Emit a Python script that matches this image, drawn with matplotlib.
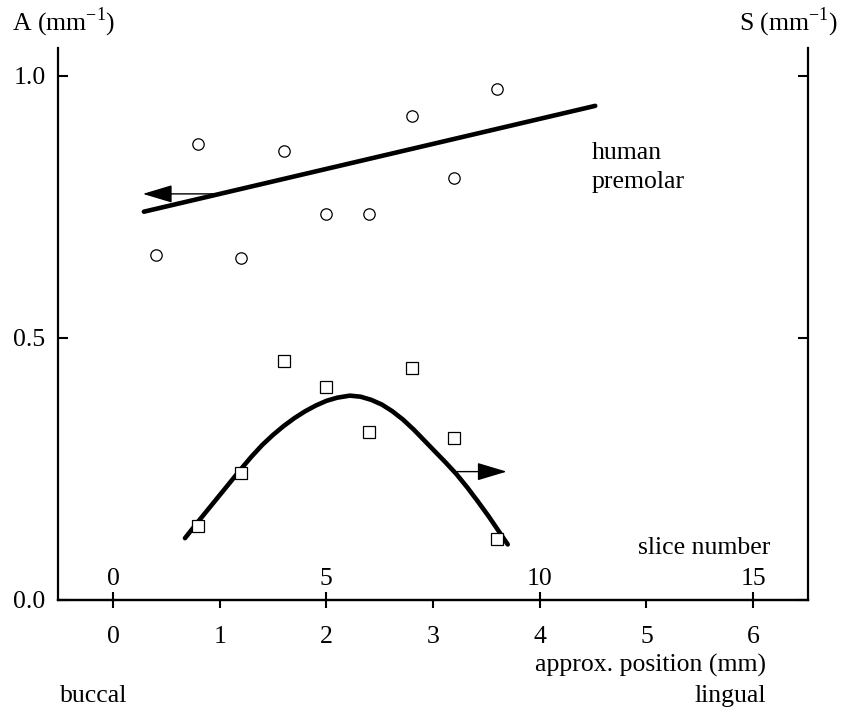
import matplotlib
matplotlib.use("Agg")
import matplotlib.pyplot as plt

# --- data (x in mm, slice = mm * 2.5) ---
a_pos = [0.4, 0.8, 1.2, 1.6, 2.0, 2.4, 2.8, 3.2, 3.6]
a_vals = [0.658, 0.870, 0.653, 0.857, 0.736, 0.737, 0.924, 0.806, 0.975]

s_pos = [0.8, 1.2, 1.6, 2.0, 2.4, 2.8, 3.2, 3.6]
s_vals = [0.142, 0.242, 0.456, 0.406, 0.321, 0.443, 0.310, 0.116]

# fitted curves as drawn in the original
a_fit_x = [0.29, 4.52]
a_fit_y = [0.741, 0.943]
s_fit_x = [0.675, 0.80, 0.90, 1.00, 1.10, 1.20, 1.30, 1.40, 1.50, 1.60,
           1.70, 1.80, 1.90, 2.00, 2.10, 2.22, 2.32, 2.42, 2.52, 2.62,
           2.72, 2.82, 2.92, 3.02, 3.12, 3.22, 3.32, 3.42, 3.52, 3.62, 3.70]
s_fit_y = [0.118, 0.150, 0.175, 0.200, 0.225, 0.250, 0.274, 0.296, 0.315,
           0.332, 0.347, 0.360, 0.371, 0.380, 0.386, 0.390, 0.388, 0.382,
           0.373, 0.360, 0.344, 0.325, 0.304, 0.283, 0.262, 0.240, 0.215,
           0.188, 0.160, 0.130, 0.106]

mm_ticks = [0, 1, 2, 3, 4, 5, 6]
slice_ticks = [0, 5, 10, 15]
y_ticks = [0.0, 0.5, 1.0]

plt.rcParams["font.family"] = ["Liberation Serif", "DejaVu Serif"]
plt.rcParams["mathtext.fontset"] = "custom"
plt.rcParams["mathtext.rm"] = "Liberation Serif"
plt.rcParams["font.size"] = 18.5

fig = plt.figure(figsize=(8.56, 7.14), dpi=100)
ax = fig.add_axes([58 / 856, 114 / 714, 750 / 856, 552 / 714])
xlim = (-0.515, 6.514)
ax.set_xlim(*xlim)
ax.set_ylim(0, 1.0534)

ax.plot(a_pos, a_vals, "o", ms=8.2, mfc="white", mec="black", mew=0.9, zorder=3)
ax.plot(s_pos, s_vals, "s", ms=8, mfc="white", mec="black", mew=0.9, zorder=3)
ax.plot(a_fit_x, a_fit_y, color="black", lw=3.3, solid_capstyle="round", zorder=2)
ax.plot(s_fit_x, s_fit_y, color="black", lw=3.3, solid_capstyle="round",
        solid_joinstyle="round", zorder=2)

arrow = dict(arrowstyle="-|>,head_length=1.0,head_width=0.3", color="black",
             lw=1.0, shrinkA=0, shrinkB=0)
ax.annotate("", xy=(0.28, 0.775), xytext=(0.97, 0.775), arrowprops=arrow)
ax.annotate("", xy=(3.69, 0.245), xytext=(3.22, 0.245), arrowprops=arrow)

ax.text(4.49, 0.826, "human\npremolar", ha="left", va="center", linespacing=1.4)

# spines and ticks
for side in ("left", "right", "bottom"):
    ax.spines[side].set_linewidth(1.6)
ax.spines["top"].set_visible(False)
ax.set_yticks(y_ticks)
ax.set_yticklabels([f"{v:.1f}" for v in y_ticks])
ax.tick_params(axis="y", direction="in", length=7, width=1.5, pad=9,
               right=True, labelright=False)
ax.set_xticks(mm_ticks)
ax.set_xticklabels([str(v) for v in mm_ticks])
ax.tick_params(axis="x", direction="out", length=6, width=1.5, pad=13)

# slice-number axis drawn on the same baseline, labels above
twin = ax.twiny()
twin.set_xlim(xlim[0] * 2.5, xlim[1] * 2.5)
twin.set_xticks(slice_ticks)
twin.set_xticklabels([str(v) for v in slice_ticks])
twin.spines["top"].set_position(("data", 0))
for side in ("left", "right", "bottom"):
    twin.spines[side].set_visible(False)
twin.spines["top"].set_linewidth(1.6)
twin.tick_params(axis="x", direction="out", length=6, width=1.5, pad=1)

ax.text(6.16, 0.099, "slice number", ha="right", va="center")
ax.text(6.12, -0.118, "approx. position (mm)", ha="right", va="center",
        transform=ax.get_xaxis_transform())
ax.text(-0.5, -0.174, "buccal", ha="left", va="center",
        transform=ax.get_xaxis_transform())
ax.text(6.12, -0.174, "lingual", ha="right", va="center",
        transform=ax.get_xaxis_transform())

fig.text(12 / 856, 1 - 22 / 714, "A (mm$^{-1}$)", ha="left", va="center")
fig.text(838 / 856, 1 - 22 / 714, "S (mm$^{-1}$)", ha="right", va="center")

fig.savefig("out.png", dpi=100)
